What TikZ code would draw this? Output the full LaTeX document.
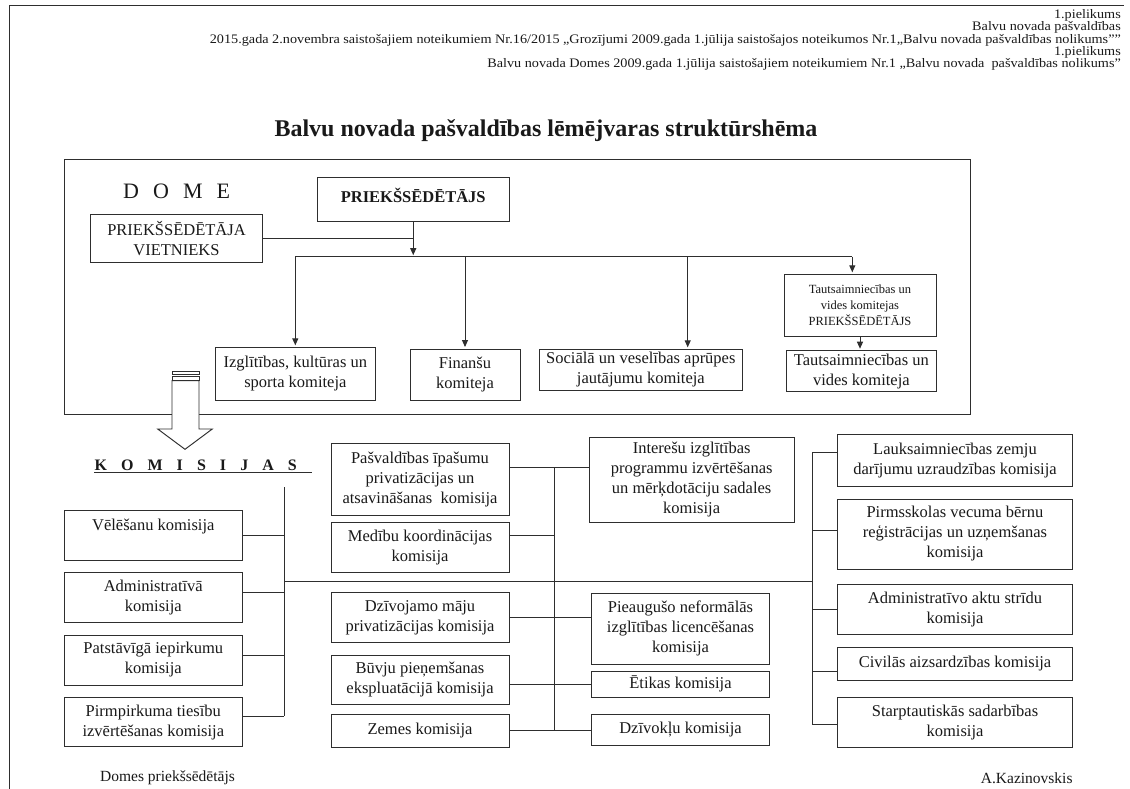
\documentclass[tikz,border=0pt]{standalone}
\usepackage{fontspec}
\setmainfont{Liberation Serif}
\usetikzlibrary{arrows.meta}
\newlength\fitlen
\newcommand\fitw[2]{\settowidth\fitlen{#2}\pgfmathsetmacro\fitsx{#1/\fitlen}\scalebox{\fitsx}[1]{#2}}
\newcommand\bx[6][]{\node[box,#1,minimum width={(#4-#2)*1pt},minimum height={(#5-#3)*1pt}] (#6) at ({(#2+#4)/2},{(#3+#5)/2})}
\colorlet{ln}{black!82}
\tikzset{
 box/.style={draw=ln, line width=0.95pt, inner sep=1pt, align=center, text=black!90, font=\fontsize{16.5}{20}\selectfont},
 small/.style={font=\fontsize{12.5}{15.7}\selectfont},
 conn/.style={draw=ln, line width=0.95pt},
 arr/.style={conn, -{Triangle[length=7pt,width=6pt]}, shorten >=1.5pt},
 hdr/.style={inner sep=0pt, anchor=base east, text=black!90, font=\fontsize{13}{14}\selectfont},
 plain/.style={inner sep=0pt, text=black!90, font=\fontsize{15.5}{18}\selectfont},
}
\begin{document}
\settowidth\fitlen{\fontsize{13}{14}\selectfont 2015.gada 2.novembra saistošajiem noteikumiem Nr.16/2015 „Grozījumi 2009.gada 1.jūlija saistošajos noteikumos Nr.1„Balvu novada pašvaldības nolikums””}%
\pgfmathsetmacro\hsx{911/\fitlen}%
\begin{tikzpicture}[x=1pt,y=-1pt]
\useasboundingbox (0,0) rectangle (1130,789);
\fill[white] (0,0) rectangle (1130,789);
% page frame
\draw[conn] (9,789) -- (9,5.5) -- (1124,5.5);
% header
\node[hdr] (h1) at (1121,18.5) {\scalebox{\hsx}[1]{1.pielikums}};
\node[hdr] (h2) at (1121,30.8) {\scalebox{\hsx}[1]{Balvu novada pašvaldības}};
\node[hdr] (h3) at (1121,43.1) {\scalebox{\hsx}[1]{2015.gada 2.novembra saistošajiem noteikumiem Nr.16/2015 „Grozījumi 2009.gada 1.jūlija saistošajos noteikumos Nr.1„Balvu novada pašvaldības nolikums””}};
\node[hdr] (h4) at (1121,55.4) {\scalebox{\hsx}[1]{1.pielikums}};
\node[hdr] (h5) at (1121,67.7) {\scalebox{\hsx}[1]{Balvu novada Domes 2009.gada 1.jūlija saistošajiem noteikumiem Nr.1 „Balvu novada\ \ pašvaldības nolikums”}};
% title
\node[inner sep=0pt, text=black!90, font=\fontsize{24}{26}\selectfont\bfseries] (title) at (546,131) {\fitw{543}{Balvu novada pašvaldības lēmējvaras struktūrshēma}};
% DOME frame
\bx{64}{159}{970}{414}{dome} {};
\node[anchor=west, inner sep=0pt, text=black!90, font=\fontsize{22}{24}\selectfont] (dm) at (123,191.7) {\makebox[107pt][s]{D\hfill O\hfill M\hfill E}};
\bx{317.5}{177.7}{509}{221.7}{pr} {};
\node[inner sep=0pt, text=black!90, font=\fontsize{16.5}{20}\selectfont\bfseries] (prt) at (413.2,195) {PRIEKŠSĒDĒTĀJS};
\bx{90.7}{214}{262.3}{262.7}{viet} {PRIEKŠSĒDĒTĀJA\\VIETNIEKS};
\bx{215.7}{347.3}{375}{400.7}{izg} {Izglītības, kultūras un\\sporta komiteja};
\bx{410}{349}{520}{400.7}{fin} {Finanšu\\komiteja};
\bx{539}{349.3}{742.7}{390.7}{soc} {Sociālā un veselības aprūpes\\jautājumu komiteja};
\bx[small]{784}{274.3}{936}{336}{tch} {Tautsaimniecības un\\vides komitejas\\PRIEKŠSĒDĒTĀJS};
\bx{786}{350.7}{936.7}{391.7}{tko} {Tautsaimniecības un\\vides komiteja};
% DOME connectors
\coordinate (bL) at (295.3,256.7);
\coordinate (bR) at (852.3,256.7);
\coordinate (bS) at (687.7,256.7);
\draw[conn] (viet.east) -- (viet.east -| pr.south);
\draw[arr] (pr.south) -- (pr.south |- bL);
\draw[conn] (bL) -- (bR);
\draw[arr] (bL) -- (bL |- izg.north);
\draw[arr] (fin.north |- bL) -- (fin.north);
\draw[arr] (bS) -- (bS |- soc.north);
\draw[arr] (bR) -- (bR |- tch.north);
\draw[arr] (tch.south) -- (tch.south |- tko.north);
% block arrow
\draw[conn, fill=white] (172,380.7) -- (172,429) -- (157.7,429) -- (185,449.3) -- (212.3,429) -- (199,429) -- (199,380.7) -- cycle;
\draw[conn, fill=white] (172,376) rectangle (199,380.7);
\draw[conn, fill=white] (172,371.7) rectangle (199,374);
% KOMISIJAS
\node[anchor=base west, inner sep=0pt, text=black!90, font=\fontsize{16}{18}\selectfont\bfseries] (kom) at (94.3,470.8) {\makebox[202.4pt][s]{K\hfill O\hfill M\hfill I\hfill S\hfill I\hfill J\hfill A\hfill S}};
\draw[conn, line width=1.1pt] (kom.base west) ++(0,1.7) -- ++(217.4,0);
% left column
\bx{64.3}{510}{242.3}{560}{vel} {Vēlēšanu komisija\\\mbox{}};
\bx{64.3}{572.3}{242.3}{622.3}{adm} {Administratīvā\\komisija};
\bx{64.3}{635}{242.3}{685}{pat} {Patstāvīgā iepirkumu\\komisija};
\bx{64.3}{697.7}{242.3}{746.7}{pir} {Pirmpirkuma tiesību\\izvērtēšanas komisija};
% middle left
\bx{331}{443.3}{509}{515.7}{pasv} {Pašvaldības īpašumu\\privatizācijas un\\atsavināšanas\ \ komisija};
\bx{331}{522.3}{509}{572.7}{med} {Medību koordinācijas\\komisija};
\bx{331}{592.3}{509}{642.3}{dziv} {Dzīvojamo māju\\privatizācijas komisija};
\bx{331}{655}{509}{704.3}{buv} {Būvju pieņemšanas\\ekspluatācijā komisija};
\bx{331}{714.3}{509}{747.3}{zem} {Zemes komisija};
% middle right
\bx{589.3}{437.7}{794}{522.3}{intr} {Interešu izglītības\\programmu izvērtēšanas\\un mērķdotāciju sadales\\komisija};
\bx{591.7}{593.3}{769.3}{664.3}{pie} {Pieaugušo neformālās\\izglītības licencēšanas\\komisija};
\bx{591.7}{671}{769.3}{697.3}{eti} {Ētikas komisija};
\bx{591.7}{714.3}{769.3}{745.7}{dzk} {Dzīvokļu komisija};
% right column
\bx{837.7}{434.3}{1072.3}{486}{lau} {Lauksaimniecības zemju\\darījumu uzraudzības komisija};
\bx{837.7}{499}{1072.3}{569}{pms} {Pirmsskolas vecuma bērnu\\reģistrācijas un uzņemšanas\\komisija};
\bx{837.7}{584.3}{1072.3}{634.3}{aak} {Administratīvo aktu strīdu\\komisija};
\bx{837.7}{647.7}{1072.3}{680}{civ} {Civilās aizsardzības komisija};
\bx{837.7}{697.3}{1072.3}{747.3}{sta} {Starptautiskās sadarbības\\komisija};
% trunks
\coordinate (lt) at (284.3,487.3);
\coordinate (mt) at (554,467.3);
\coordinate (rt) at (812.3,452.7);
\coordinate (hl) at (284.3,581);
% left connectors
\coordinate (admc) at ([yshift=5pt]adm.east);
\coordinate (patc) at ([yshift=4.5pt]pat.east);
\coordinate (pirc) at ([yshift=6pt]pir.east);
\draw[conn] (vel.east) -- (vel.east -| lt);
\draw[conn] (admc) -- (admc -| lt);
\draw[conn] (patc) -- (patc -| lt);
\draw[conn] (pirc) -- (pirc -| lt);
\draw[conn] (lt) -- (lt |- pirc);
\draw[conn] (hl) -- (hl -| rt);
% middle connectors
\coordinate (pasvc) at ([yshift=12pt]pasv.east);
\coordinate (medc) at ([yshift=12.5pt]med.east);
\draw[conn] (pasvc) -- (pasvc -| intr.west);
\draw[conn] (medc) -- (medc -| mt);
\draw[conn] (dziv.east) -- (dziv.east -| pie.west);
\draw[conn] (buv.east |- eti.west) -- (eti.west);
\draw[conn] (zem.east) -- (zem.east -| dzk.west);
\draw[conn] (mt |- pasvc) -- (mt |- zem.east);
% right connectors
\coordinate (lauc) at ([yshift=7.5pt]lau.west);
\coordinate (pmsc) at ([yshift=4pt]pms.west);
\coordinate (civc) at ([yshift=-8pt]civ.west);
\coordinate (stac) at ([yshift=-2pt]sta.west);
\draw[conn] (lauc) -- (lauc -| rt);
\draw[conn] (pmsc) -- (pmsc -| rt);
\draw[conn] (aak.west) -- (aak.west -| rt);
\draw[conn] (civc) -- (civc -| rt);
\draw[conn] (stac) -- (stac -| rt);
\draw[conn] (rt |- lauc) -- (rt |- stac);
% signatures
\node[plain] (sig1) at (167.5,778) {Domes priekšsēdētājs};
\node[plain] (sig2) at (1026.7,778) {A.Kazinovskis};
\end{tikzpicture}
\end{document}
